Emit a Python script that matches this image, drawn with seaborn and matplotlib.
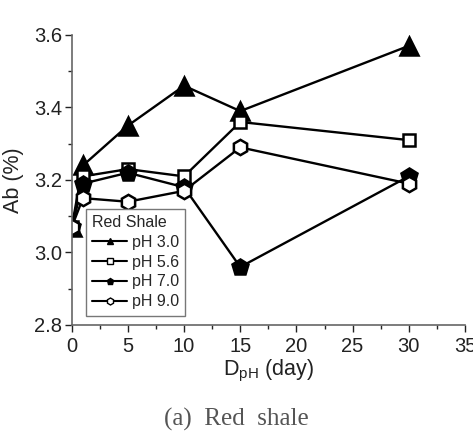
import matplotlib
matplotlib.use("Agg")
import matplotlib.pyplot as plt
import seaborn as sns
import pandas as pd
from matplotlib.ticker import MultipleLocator
from matplotlib.lines import Line2D

sns.set_style("ticks")
plt.rcParams['font.family'] = ['Liberation Sans', 'DejaVu Sans']
plt.rcParams['mathtext.fontset'] = 'custom'
plt.rcParams['mathtext.rm'] = 'Liberation Sans'

days = [0, 1, 5, 10, 15, 30]
ph30 = [3.07, 3.24, 3.35, 3.46, 3.39, 3.57]
ph56 = [3.07, 3.21, 3.23, 3.21, 3.36, 3.31]
ph70 = [3.07, 3.19, 3.22, 3.18, 2.96, 3.21]
ph90 = [3.07, 3.15, 3.14, 3.17, 3.29, 3.19]
labels = ["pH 3.0", "pH 5.6", "pH 7.0", "pH 9.0"]

fig = plt.figure(figsize=(4.73, 4.32), dpi=100)
ax = fig.add_axes([0.1516, 0.2477, 0.8314, 0.6713])

styles = [
    ("^", "black", 13),
    ("s", "white", 9),
    ("p", "black", 12),
    ("h", "white", 11),
]
series = [ph30, ph56, ph70, ph90]
for vals, lab, (m, fc, ms) in zip(series, labels, styles):
    df = pd.DataFrame({"day": days, "ab": vals})
    sns.lineplot(data=df, x="day", y="ab", ax=ax, color="black", lw=1.7,
                 marker=m, markersize=ms, markerfacecolor=fc,
                 markeredgecolor="black", markeredgewidth=1.8, label=lab,
                 clip_on=True)

ax.set_xlim(0, 35)
ax.set_ylim(2.8, 3.6)
ax.xaxis.set_major_locator(MultipleLocator(5))
ax.xaxis.set_minor_locator(MultipleLocator(2.5))
ax.yaxis.set_major_locator(MultipleLocator(0.2))
ax.yaxis.set_minor_locator(MultipleLocator(0.1))
ax.tick_params(axis="both", which="major", direction="out", length=5, width=1,
               labelsize=14.5, colors="#222222", pad=2)
ax.tick_params(axis="x", which="major", pad=4)
ax.tick_params(axis="both", which="minor", direction="out", length=3, width=1)
for s in ["top", "right"]:
    ax.spines[s].set_visible(False)
for s in ["left", "bottom"]:
    ax.spines[s].set_color("#666666")
    ax.spines[s].set_linewidth(1.2)

ax.set_xlabel(r"D$_{\mathrm{pH}}$ (day)", fontsize=15.5, color="#222222", labelpad=1)
ax.set_ylabel("Ab (%)", fontsize=15.5, color="#222222", labelpad=7)

leg_handles = [Line2D([], [], color="black", lw=1.5, marker=m, markersize=5,
                      markerfacecolor=fc, markeredgecolor="black", markeredgewidth=1)
               for (m, fc, ms) in styles]
ax.legend(leg_handles, labels, title="Red Shale", loc="lower left",
          bbox_to_anchor=(0.015, 0.005), fontsize=11.5, title_fontsize=11.5,
          frameon=True, fancybox=False, edgecolor="#777777", framealpha=1,
          handlelength=2.2, handletextpad=0.3, labelspacing=0.3,
          borderpad=0.4, alignment="left")

fig.text(0.5, 0.028, "(a)  Red  shale", ha="center", va="center",
         fontsize=18, color="#555555", family=["Liberation Serif", "DejaVu Serif"])

fig.savefig("out.png", dpi=100)
